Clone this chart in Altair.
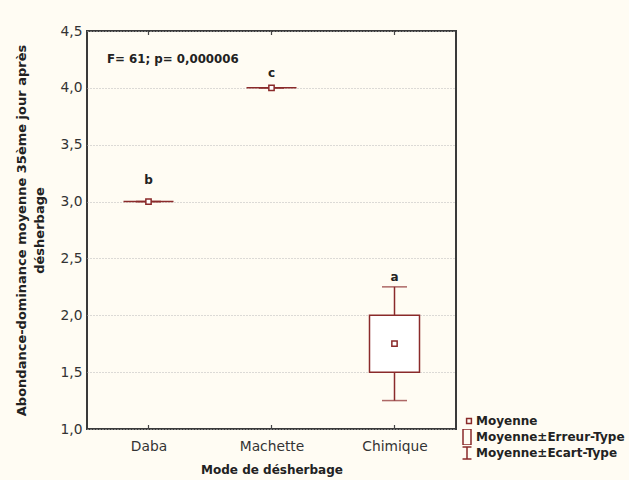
import altair as alt
import pandas as pd

categories = ["Daba", "Machette", "Chimique"]
means = [3.0, 4.0, 1.75]
se_low = [3.0, 4.0, 1.5]
se_high = [3.0, 4.0, 2.0]
sd_low = [3.0, 4.0, 1.25]
sd_high = [3.0, 4.0, 2.25]
letters = ["b", "c", "a"]
letter_y = [3.19, 4.13, 2.34]
y_ticks = [1.0, 1.5, 2.0, 2.5, 3.0, 3.5, 4.0, 4.5]
legend_items = ["Moyenne", "Moyenne±Erreur-Type", "Moyenne±Ecart-Type"]
annotation = "F= 61; p= 0,000006"
y_title = ["Abondance-dominance moyenne 35ème jour après",
           "désherbage" + "\u00a0" * 7]

MAROON = "#8a2a2a"
FONT = "DejaVu Sans"

df = pd.DataFrame({
    "cat": categories, "mean": means, "se_lo": se_low, "se_hi": se_high,
    "sd_lo": sd_low, "sd_hi": sd_high, "letter": letters, "ly": letter_y,
})
df_leg = pd.DataFrame({"item": legend_items})

x_enc = alt.X("cat:N", sort=categories,
              scale=alt.Scale(type="point", padding=0.5),
              axis=alt.Axis(title="Mode de désherbage", ticks=False, domain=False,
                            labelAngle=0, labelPadding=10, grid=False, titlePadding=12))
y_scale = alt.Scale(domain=[1.0, 4.5], nice=False, zero=False)
y_axis = alt.Axis(title=y_title,
                  values=y_ticks, ticks=False, domain=False, labelPadding=5,
                  labelExpr="replace(format(datum.value, '.1f'), '.', ',')",
                  grid=True, gridDash=[1, 2], gridColor="#b8b8b8", gridWidth=1,
                  titlePadding=14, titleFontSize=13)

base = alt.Chart(df)

whisker = base.mark_rule(color=MAROON, strokeWidth=1.5).encode(
    x=x_enc, y=alt.Y("sd_lo:Q", scale=y_scale, axis=y_axis), y2="sd_hi:Q")
cap_lo = base.mark_tick(color=MAROON, thickness=1.5, size=25).encode(
    x=x_enc, y=alt.Y("sd_lo:Q", scale=y_scale))
cap_hi = base.mark_tick(color=MAROON, thickness=1.5, size=25).encode(
    x=x_enc, y=alt.Y("sd_hi:Q", scale=y_scale))
box = base.mark_bar(size=50, fill="white", stroke=MAROON, strokeWidth=1.5).encode(
    x=x_enc, y=alt.Y("se_lo:Q", scale=y_scale), y2="se_hi:Q")
mean_pt = base.mark_point(shape="square", size=28, filled=False, fill="white",
                          fillOpacity=1, color=MAROON, strokeWidth=1.5, opacity=1).encode(
    x=x_enc, y=alt.Y("mean:Q", scale=y_scale))
letter_txt = base.mark_text(fontWeight="bold", fontSize=12, font=FONT, color="#222222",
                            baseline="middle").encode(
    x=x_enc, y=alt.Y("ly:Q", scale=y_scale), text="letter:N")

ticks_top = base.mark_rule(color="#444444", strokeWidth=1.2).encode(
    x=x_enc, y=alt.value(0), y2=alt.value(4))
ticks_bot = base.mark_rule(color="#444444", strokeWidth=1.2).encode(
    x=x_enc, y=alt.value(394), y2=alt.value(398))

ann = alt.Chart(pd.DataFrame({"t": [annotation]})).mark_text(
    align="left", baseline="middle", fontWeight="bold", fontSize=11.8, font=FONT,
    color="#222222").encode(x=alt.value(20), y=alt.value(28), text="t:N")

paths = [
    "M-0.05,-0.3H0.55V0.3H-0.05Z",
    "M-0.5,-1H0.5V1H-0.5Z",
    "M-0.56,-0.75H0.56M0,-0.75V0.75M-0.56,0.75H0.56",
]
leg = alt.Chart(df_leg).mark_point(opacity=0, color=MAROON, filled=False).encode(
    shape=alt.Shape("item:N", sort=legend_items,
                    scale=alt.Scale(domain=legend_items, range=paths),
                    legend=alt.Legend(title=None, orient="none", legendX=371, legendY=382,
                                      symbolSize=256, symbolOpacity=1,
                                      symbolStrokeColor=MAROON, symbolFillColor="transparent",
                                      symbolStrokeWidth=1.5, labelFont=FONT,
                                      labelFontSize=12, labelFontWeight="bold",
                                      labelColor="#222222", labelOffset=0,
                                      rowPadding=0, clipHeight=16, padding=0)))

chart = alt.layer(ticks_top, ticks_bot, whisker, cap_lo, cap_hi, box, mean_pt,
                  letter_txt, ann, leg).properties(
    width=369, height=398,
    autosize=alt.AutoSizeParams(type="none"),
    padding={"left": 87, "top": 31, "right": 173, "bottom": 51},
    background="#fffcf3",
).configure_view(
    fill="white", stroke="#3a3a3a", strokeWidth=2,
).configure_axis(
    labelFont=FONT, labelFontSize=13.8, labelColor="#333333",
    titleFont=FONT, titleFontSize=12, titleFontWeight="bold", titleColor="#222222",
    titleLineHeight=18,
)

chart.save("out.html", embed_options={"renderer": "svg", "actions": False})
